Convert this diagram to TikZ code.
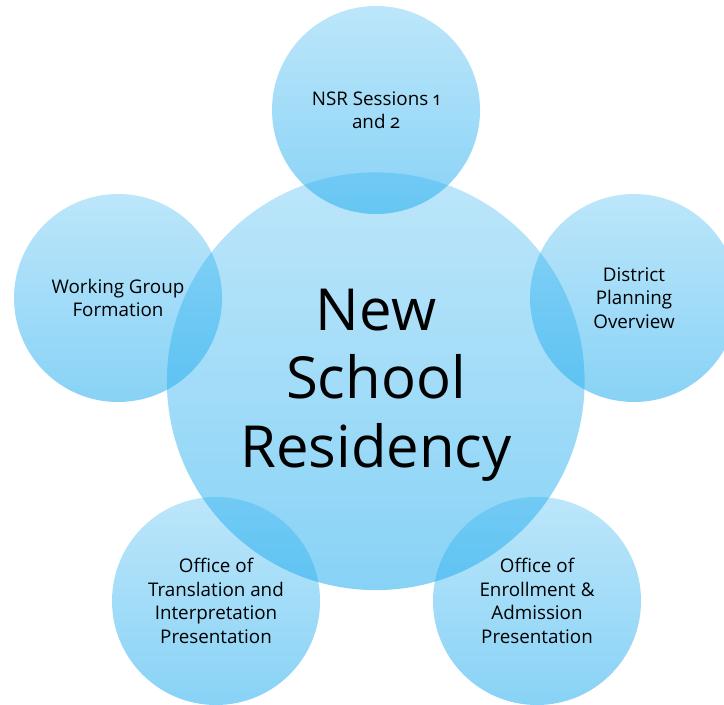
\documentclass[tikz,border=0pt]{standalone}
\usepackage{fontspec}
\setmainfont{Open Sans}[Numbers=OldStyle]
\usetikzlibrary{fadings}
\tikzfading[name=vgrad, top color=transparent!70, bottom color=transparent!46]
\definecolor{bubble}{RGB}{34,172,238}
\tikzset{
  bub/.style={circle, fill=bubble, path fading=vgrad, fit fading=true, draw=none, inner sep=0pt, minimum size=208pt},
  hub/.style={circle, fill=bubble, path fading=vgrad, fit fading=true, draw=none, inner sep=0pt, minimum size=418pt},
  small/.style={align=center, text=black, font=\fontsize{18.8}{23.5}\selectfont},
  big/.style={align=center, text=black, font=\fontsize{58}{68.5}\selectfont}
}
\begin{document}
\begin{tikzpicture}[x=1pt,y=-1pt]
\useasboundingbox (0,0) rectangle (724,705);
\clip (0,0) rectangle (724,705);
\node[hub] (hubc) at (376,381) {};
\node[bub] (c1) at (376,110) {};
\node[bub] (c2) at (118,298) {};
\node[bub] (c3) at (634,298) {};
\node[bub] (c4) at (216,601) {};
\node[bub] (c5) at (537,601) {};
\node[big] (t0) at ([yshift=-4pt]hubc.center) {New\\School\\Residency};
\node[small] (t1) at (c1) {NSR Sessions 1\\and 2};
\node[small] (t2) at (c2) {Working Group\\Formation};
\node[small] (t3) at (c3) {District\\Planning\\Overview};
\node[small] (t4) at (c4) {Office of\\Translation and\\Interpretation\\Presentation};
\node[small] (t5) at (c5) {Office of\\Enrollment \&\\Admission\\Presentation};
\end{tikzpicture}
\end{document}
